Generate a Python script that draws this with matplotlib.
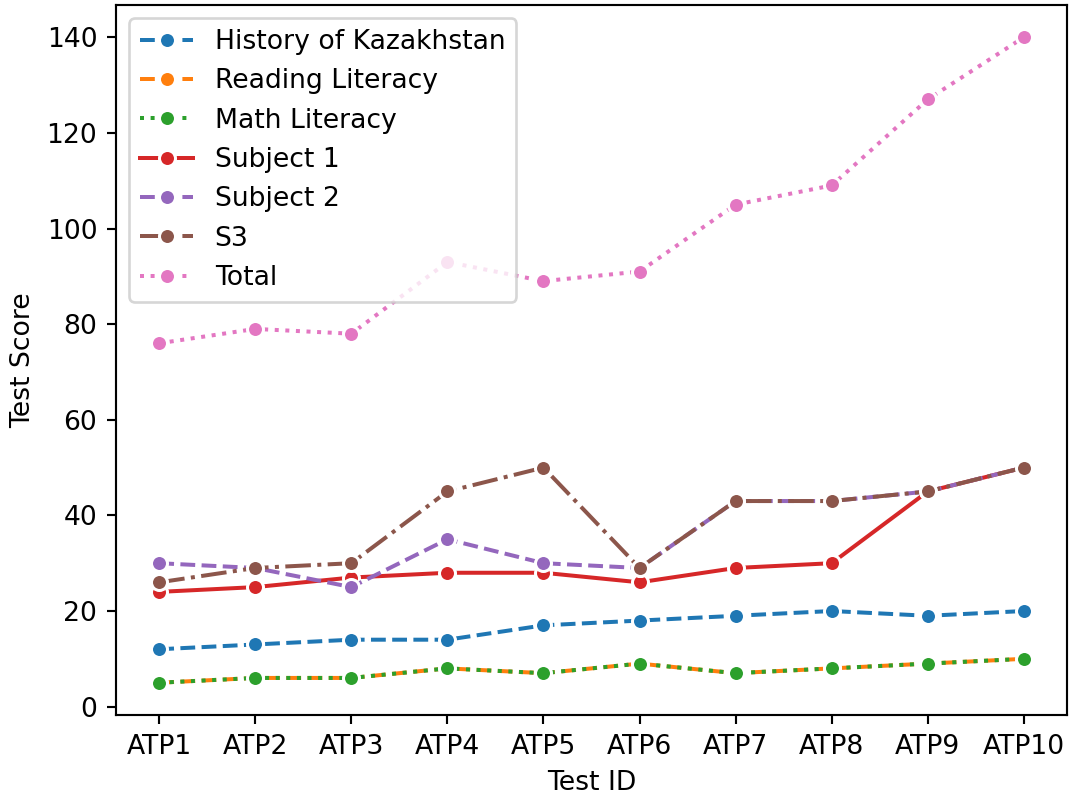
import matplotlib
matplotlib.use("Agg")
import matplotlib.pyplot as plt

test_ids = ["ATP1", "ATP2", "ATP3", "ATP4", "ATP5", "ATP6", "ATP7", "ATP8", "ATP9", "ATP10"]
history = [12, 13, 14, 14, 17, 18, 19, 20, 19, 20]
reading = [5, 6, 6, 8, 7, 9, 7, 8, 9, 10]
math_lit = [5, 6, 6, 8, 7, 9, 7, 8, 9, 10]
subject1 = [24, 25, 27, 28, 28, 26, 29, 30, 45, 50]
subject2 = [30, 29, 25, 35, 30, 29, 43, 43, 45, 50]
s3 = [26, 29, 30, 45, 50, 29, 43, 43, 45, 50]
total = [76, 79, 78, 93, 89, 91, 105, 109, 127, 140]

series = [
    ("History of Kazakhstan", history, "#1f77b4", "--"),
    ("Reading Literacy", reading, "#ff7f0e", "--"),
    ("Math Literacy", math_lit, "#2ca02c", ":"),
    ("Subject 1", subject1, "#d62728", "-"),
    ("Subject 2", subject2, "#9467bd", "--"),
    ("S3", s3, "#8c564b", "-."),
    ("Total", total, "#e377c2", ":"),
]

dpi = 192
fig = plt.figure(figsize=(1073 / dpi, 794 / dpi), dpi=dpi)
ax = fig.add_axes([116 / 1073, 1 - 715 / 794, (1067 - 116) / 1073, (715 - 5) / 794])

x = list(range(len(test_ids)))
for name, vals, color, ls in series:
    ax.plot(x, vals, color=color, linestyle=ls, linewidth=1.5, marker="o",
            markersize=6, markeredgecolor="white", markeredgewidth=1.125, label=name)

ax.set_xticks(x)
ax.set_xticklabels(test_ids)
ax.set_xlabel("Test ID")
ax.set_ylabel("Test Score")
ax.legend(loc="upper left")
fig.savefig("out.png", dpi=dpi)
